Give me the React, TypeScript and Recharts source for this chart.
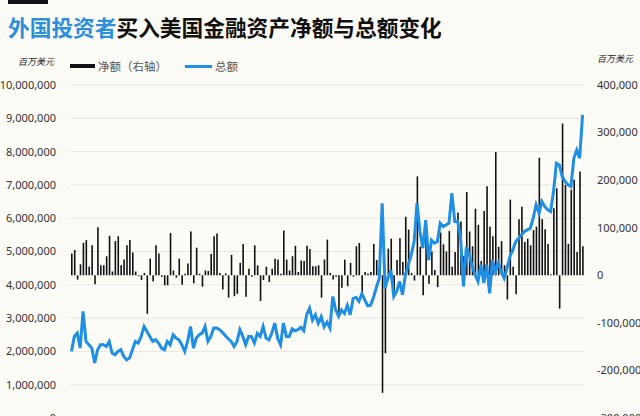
import { Bar, CartesianGrid, ComposedChart, Line, XAxis, YAxis } from "recharts";

// 净额, thousands of 百万美元 (right axis)
const netK = [
  46, 53, -9, 23, 68, 74, 18, 63, -19, 101, 21, 21, 40, 83, 8, 72, 82, 21, 33, 63,
  74, 48, 8, -2, -10, 5, -81, 35, -13, 63, 46, -3, -21, -21, 89, 10, -5, 35, -20, 3,
  25, 92, -17, 58, 3, -24, 10, 9, 45, 82, 88, 5, -30, 4, -47, 43, -44, -39, 26, 66,
  -45, 14, -3, 63, 21, -54, -10, 18, -14, 14, 35, 33, 3, 94, 33, 10, 40, 62, 7, 31,
  30, 62, 55, 19, 19, 21, -47, 33, 75, 5, -9, -3, -78, -26, 33, -23, 26, -3, 61, 68,
  -35, 7, 4, 7, 66, 32, 2, -247, -164, 56, 77, -40, 32, 78, 28, 123, 96, 5, -11, 208,
  60, -42, 88, -18, 50, 11, -25, 90, 65, 50, 93, 18, 49, 132, 113, 40, 175, 92, 61, 140,
  106, 30, 135, 187, 102, 82, 259, 60, 72, 21, -51, 159, 18, -40, 118, 144, 70, 77, 63, 95,
  102, 247, 118, 97, 66, 2, 141, 183, -70, 319, 190, 66, 180, 201, 49, 218, 61,
];

// 总额, millions of 百万美元 (left axis)
const totalM = [
  2.0, 2.45, 2.55, 2.1, 3.2, 2.3, 2.2, 2.1, 1.65, 2.05, 2.2, 2.2, 2.15, 2.3, 1.95, 1.9, 2.0, 2.05, 1.85, 1.75,
  1.8, 2.05, 2.3, 2.25, 2.45, 2.75, 2.6, 2.45, 2.3, 2.35, 2.25, 2.1, 2.05, 2.3, 2.2, 2.5, 2.4, 2.35, 2.2, 2.0,
  2.3, 2.75, 2.1, 2.4, 2.5, 2.55, 2.75, 2.3, 2.45, 2.7, 2.7, 2.65, 2.57, 2.47, 2.38, 2.3, 2.15, 2.3, 2.65, 2.45,
  2.2, 2.45, 2.44, 2.25, 2.54, 2.45, 2.75, 2.4, 2.35, 2.55, 2.85, 2.4, 2.2, 2.85, 2.45, 2.45, 2.68, 2.62, 2.65, 2.72,
  2.62, 3.1, 3.3, 2.94, 3.1, 2.84, 3.04, 2.74, 2.88, 2.7, 3.65, 3.25, 3.05, 3.24, 3.14, 3.38, 3.1, 3.59, 3.62, 3.5,
  3.74, 3.55, 3.37, 3.39, 3.62, 3.92, 4.2, 6.45, 3.9, 4.2, 4.44, 3.65, 3.8, 4.1, 3.7, 4.3, 4.6, 4.9, 5.3, 6.45,
  5.6, 5.1, 5.94, 4.74, 5.34, 5.25, 5.3, 5.85, 5.75, 5.8, 5.85, 6.75, 5.9, 5.9, 5.4, 3.95, 5.14, 4.9, 4.55, 4.3,
  4.1, 4.6, 4.05, 4.6, 3.74, 4.74, 4.4, 4.65, 4.4, 4.2, 4.5, 4.85, 5.05, 5.3, 5.4, 5.5, 5.6, 5.65, 5.7, 6.0,
  6.4, 6.15, 6.5, 6.35, 6.25, 6.2, 6.8, 7.65, 7.6, 7.25, 7.1, 7.0, 6.95, 7.8, 8.05, 7.8, 9.1,
];

const leftTicks = [0, 1000000, 2000000, 3000000, 4000000, 5000000, 6000000, 7000000, 8000000, 9000000, 10000000];
const rightTicks = [-300000, -200000, -100000, 0, 100000, 200000, 300000, 400000];

const rows = netK.map((n, i) => ({ m: i, net: n * 1000, total: totalM[i] * 1000000 }));

const BLUE = "#1e8fe3";
const BG = "#fdfbf6";
const fmt = (v: number) => v.toLocaleString("en-US");
const tickStyle = { fill: "#333", fontSize: 11, fontFamily: "'Noto Sans', sans-serif" };
const cjk = "'Noto Sans CJK SC', sans-serif";

export default function App() {
  return (
    <div
      style={{
        position: "fixed",
        left: 0,
        top: 0,
        width: 640,
        height: 416,
        overflow: "hidden",
        background: BG,
        fontFamily: cjk,
      }}
    >
      <div style={{ position: "absolute", left: 8, top: 0, width: 40, height: 4, background: "#111" }} />
      <div
        style={{
          position: "absolute",
          left: 8,
          top: 16,
          fontSize: 21.7,
          lineHeight: "22px",
          fontWeight: 700,
          color: "#111",
          whiteSpace: "nowrap",
        }}
      >
        <span style={{ color: "#2b90dc" }}>外国投资者</span>买入美国金融资产净额与总额变化
      </div>

      <div style={{ position: "absolute", left: 18, top: 55, fontSize: 9, fontStyle: "italic", color: "#222" }}>
        百万美元
      </div>
      <div style={{ position: "absolute", left: 597, top: 52, fontSize: 9, fontStyle: "italic", color: "#222" }}>
        百万美元
      </div>

      <div style={{ position: "absolute", left: 70, top: 64, width: 25, height: 4, background: "#111" }} />
      <div style={{ position: "absolute", left: 98, top: 58, fontSize: 11.5, color: "#555" }}>净额（右轴）</div>
      <div style={{ position: "absolute", left: 185, top: 65, width: 27, height: 3, background: BLUE }} />
      <div style={{ position: "absolute", left: 215, top: 58, fontSize: 11.5, color: "#555" }}>总额</div>

      <div style={{ position: "absolute", left: 0, top: 0 }}>
        <ComposedChart width={640} height={430} data={rows} margin={{ top: 85, right: 0, bottom: 12, left: 0 }}>
          <CartesianGrid yAxisId="left" vertical={false} stroke="#e9e6e0" />
          <XAxis dataKey="m" hide />
          <YAxis
            yAxisId="left"
            orientation="left"
            width={70}
            domain={[0, 10000000]}
            ticks={leftTicks}
            interval={0}
            tickFormatter={fmt}
            tick={tickStyle}
            tickLine={false}
            axisLine={false}
            tickSize={0}
            tickMargin={14}
          />
          <YAxis
            yAxisId="right"
            orientation="right"
            width={56}
            domain={[-300000, 400000]}
            ticks={rightTicks}
            interval={0}
            tickFormatter={fmt}
            tick={tickStyle}
            tickLine={false}
            axisLine={false}
            tickSize={0}
            tickMargin={13}
          />
          <Bar yAxisId="right" dataKey="net" fill="#111" barSize={1.6} isAnimationActive={false} />
          <Line
            yAxisId="left"
            dataKey="total"
            type="linear"
            stroke={BLUE}
            strokeWidth={3}
            dot={false}
            isAnimationActive={false}
          />
        </ComposedChart>
      </div>
    </div>
  );
}
